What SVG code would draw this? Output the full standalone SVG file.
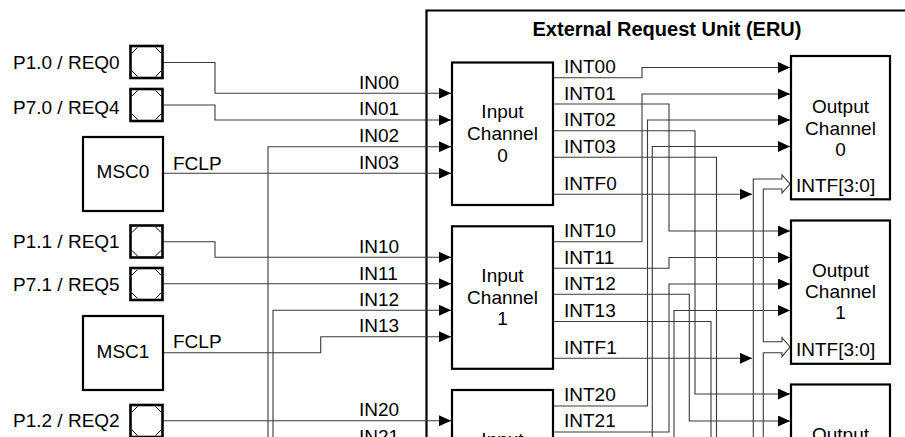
<svg xmlns="http://www.w3.org/2000/svg" xmlns:xlink="http://www.w3.org/1999/xlink" width="905" height="437" viewBox="0 0 905 437">
<style>
.b{fill:#fff;stroke:#000;stroke-width:2.2}
.pb{fill:#fff;stroke:#000;stroke-width:2.6}
.pc{fill:none;stroke:#000;stroke-width:1}
.w{fill:none;stroke:#3a3a3a;stroke-width:1.1}
.t{font-family:"Liberation Sans",Arial,Helvetica,sans-serif;font-size:19px;fill:#000}
.c{text-anchor:middle}
.h{font-weight:bold;font-size:20px}
</style>
<defs>
<marker id="a" markerUnits="userSpaceOnUse" markerWidth="12" markerHeight="11" refX="12" refY="5.5" orient="auto">
<path d="M0,0 L12,5.5 L0,11 z" fill="#000"/>
</marker>
<g id="pad">
<rect x="0" y="0" width="32" height="32" class="pb"/>
<path d="M1.5 7 L7 1.5 M25 1.5 L30.5 7 M30.5 25 L25 30.5 M7 30.5 L1.5 25" class="pc"/>
</g>
</defs>
<rect width="905" height="437" fill="#fff"/>

<g id="eru">
<path d="M426.5 445 V10.5 H910" fill="none" stroke="#000" stroke-width="2.2"/>
<text class="t c h" x="667" y="36">External Request Unit (ERU)</text>
</g>

<g id="connectors">
<!-- left inputs -->
<path class="w" marker-end="url(#a)" d="M163 62.5 H215 V93.3 H451"/>
<path class="w" marker-end="url(#a)" d="M163 105 H215 V120 H451"/>
<path class="w" marker-end="url(#a)" d="M268 445 V146.7 H451"/>
<path class="w" marker-end="url(#a)" d="M163 173.3 H451"/>
<path class="w" marker-end="url(#a)" d="M163 241.7 H215 V257.3 H451"/>
<path class="w" marker-end="url(#a)" d="M163 283.7 H451"/>
<path class="w" marker-end="url(#a)" d="M273 445 V310.3 H451"/>
<path class="w" marker-end="url(#a)" d="M163 352.7 H320.7 V336.7 H451"/>
<path class="w" marker-end="url(#a)" d="M163 420.7 H451"/>
<!-- crossbar -->
<path class="w" marker-end="url(#a)" d="M553 77.7 H642 V67.5 H790"/>
<path class="w" marker-end="url(#a)" d="M553 104 H669 V231 H790"/>
<path class="w" marker-end="url(#a)" d="M553 130.7 H695 V394 H790"/>
<path class="w" d="M553 157.3 H716.5 V445"/>
<path class="w" marker-end="url(#a)" d="M553 194.3 H752"/>
<path class="w" marker-end="url(#a)" d="M553 241.7 H642 V94 H790"/>
<path class="w" marker-end="url(#a)" d="M553 268.3 H669 V257.5 H790"/>
<path class="w" marker-end="url(#a)" d="M553 294.3 H689.3 V421 H790"/>
<path class="w" d="M553 321.5 H711 V445"/>
<path class="w" marker-end="url(#a)" d="M553 358.3 H752"/>
<path class="w" marker-end="url(#a)" d="M553 406 H647.5 V120 H790"/>
<path class="w" marker-end="url(#a)" d="M553 432 H669 V284 H790"/>
<path class="w" marker-end="url(#a)" d="M652.3 445 V146.5 H790"/>
<path class="w" marker-end="url(#a)" d="M674 445 V310.5 H790"/>
<!-- INTF bus -->
<path class="w" d="M753.3 445 V179 H782 V175 L790 184 L782 193 V189 H763.3 V341.7 H782 V337.7 L790 347 L782 356.7 V352.7 H763.3 V445"/>
<!-- labels -->
<g class="t">
<text x="173" y="169.5">FCLP</text>
<text x="173" y="347.5">FCLP</text>
<text x="359" y="88.5">IN00</text>
<text x="359" y="115">IN01</text>
<text x="359" y="141.7">IN02</text>
<text x="359" y="168.5">IN03</text>
<text x="359" y="252.5">IN10</text>
<text x="359" y="279.5">IN11</text>
<text x="359" y="305.5">IN12</text>
<text x="359" y="332">IN13</text>
<text x="359" y="416">IN20</text>
<text x="359" y="443">IN21</text>
<text x="564" y="73">INT00</text>
<text x="564" y="99.5">INT01</text>
<text x="564" y="126.2">INT02</text>
<text x="564" y="152.8">INT03</text>
<text x="564" y="189.5">INTF0</text>
<text x="564" y="237">INT10</text>
<text x="564" y="263.5">INT11</text>
<text x="564" y="290">INT12</text>
<text x="564" y="316.5">INT13</text>
<text x="564" y="353.5">INTF1</text>
<text x="564" y="401">INT20</text>
<text x="564" y="427">INT21</text>
</g>
</g>

<g id="pad_p10"><use xlink:href="#pad" x="130.5" y="46"/><text class="t" x="13" y="69">P1.0 / REQ0</text></g>
<g id="pad_p70"><use xlink:href="#pad" x="130.5" y="89"/><text class="t" x="13" y="114">P7.0 / REQ4</text></g>
<g id="msc0"><rect class="b" x="83" y="137" width="80" height="74"/><text class="t c" x="123" y="178">MSC0</text></g>
<g id="pad_p11"><use xlink:href="#pad" x="130.5" y="225.5"/><text class="t" x="13" y="248">P1.1 / REQ1</text></g>
<g id="pad_p71"><use xlink:href="#pad" x="130.5" y="268"/><text class="t" x="13" y="291">P7.1 / REQ5</text></g>
<g id="msc1"><rect class="b" x="83" y="316" width="80" height="74"/><text class="t c" x="123" y="358">MSC1</text></g>
<g id="pad_p12"><use xlink:href="#pad" x="130.5" y="405"/><text class="t" x="13" y="427">P1.2 / REQ2</text></g>

<g id="in_ch0"><rect class="b" x="452" y="62.5" width="101" height="142.5"/><text class="t c" x="502.5" y="118">Input</text><text class="t c" x="502.5" y="140">Channel</text><text class="t c" x="502.5" y="161.5">0</text></g>
<g id="in_ch1"><rect class="b" x="452" y="226.3" width="101" height="142.5"/><text class="t c" x="502.5" y="281.8">Input</text><text class="t c" x="502.5" y="303.8">Channel</text><text class="t c" x="502.5" y="325.3">1</text></g>
<g id="in_ch2"><rect class="b" x="452" y="390" width="101" height="142.5"/><text class="t c" x="502.5" y="445.5">Input</text></g>

<g id="out_ch0"><rect class="b" x="791" y="56" width="99" height="143.3"/><text class="t c" x="840.5" y="112.5">Output</text><text class="t c" x="840.5" y="134.5">Channel</text><text class="t c" x="840.5" y="155.5">0</text><text class="t" x="796" y="191.8">INTF[3:0]</text></g>
<g id="out_ch1"><rect class="b" x="791" y="220.5" width="99" height="143.3"/><text class="t c" x="840.5" y="276.5">Output</text><text class="t c" x="840.5" y="298">Channel</text><text class="t c" x="840.5" y="319">1</text><text class="t" x="796" y="356.3">INTF[3:0]</text></g>
<g id="out_ch2"><rect class="b" x="791" y="384.5" width="99" height="143.3"/><text class="t c" x="840.5" y="440.5">Output</text></g>
</svg>
